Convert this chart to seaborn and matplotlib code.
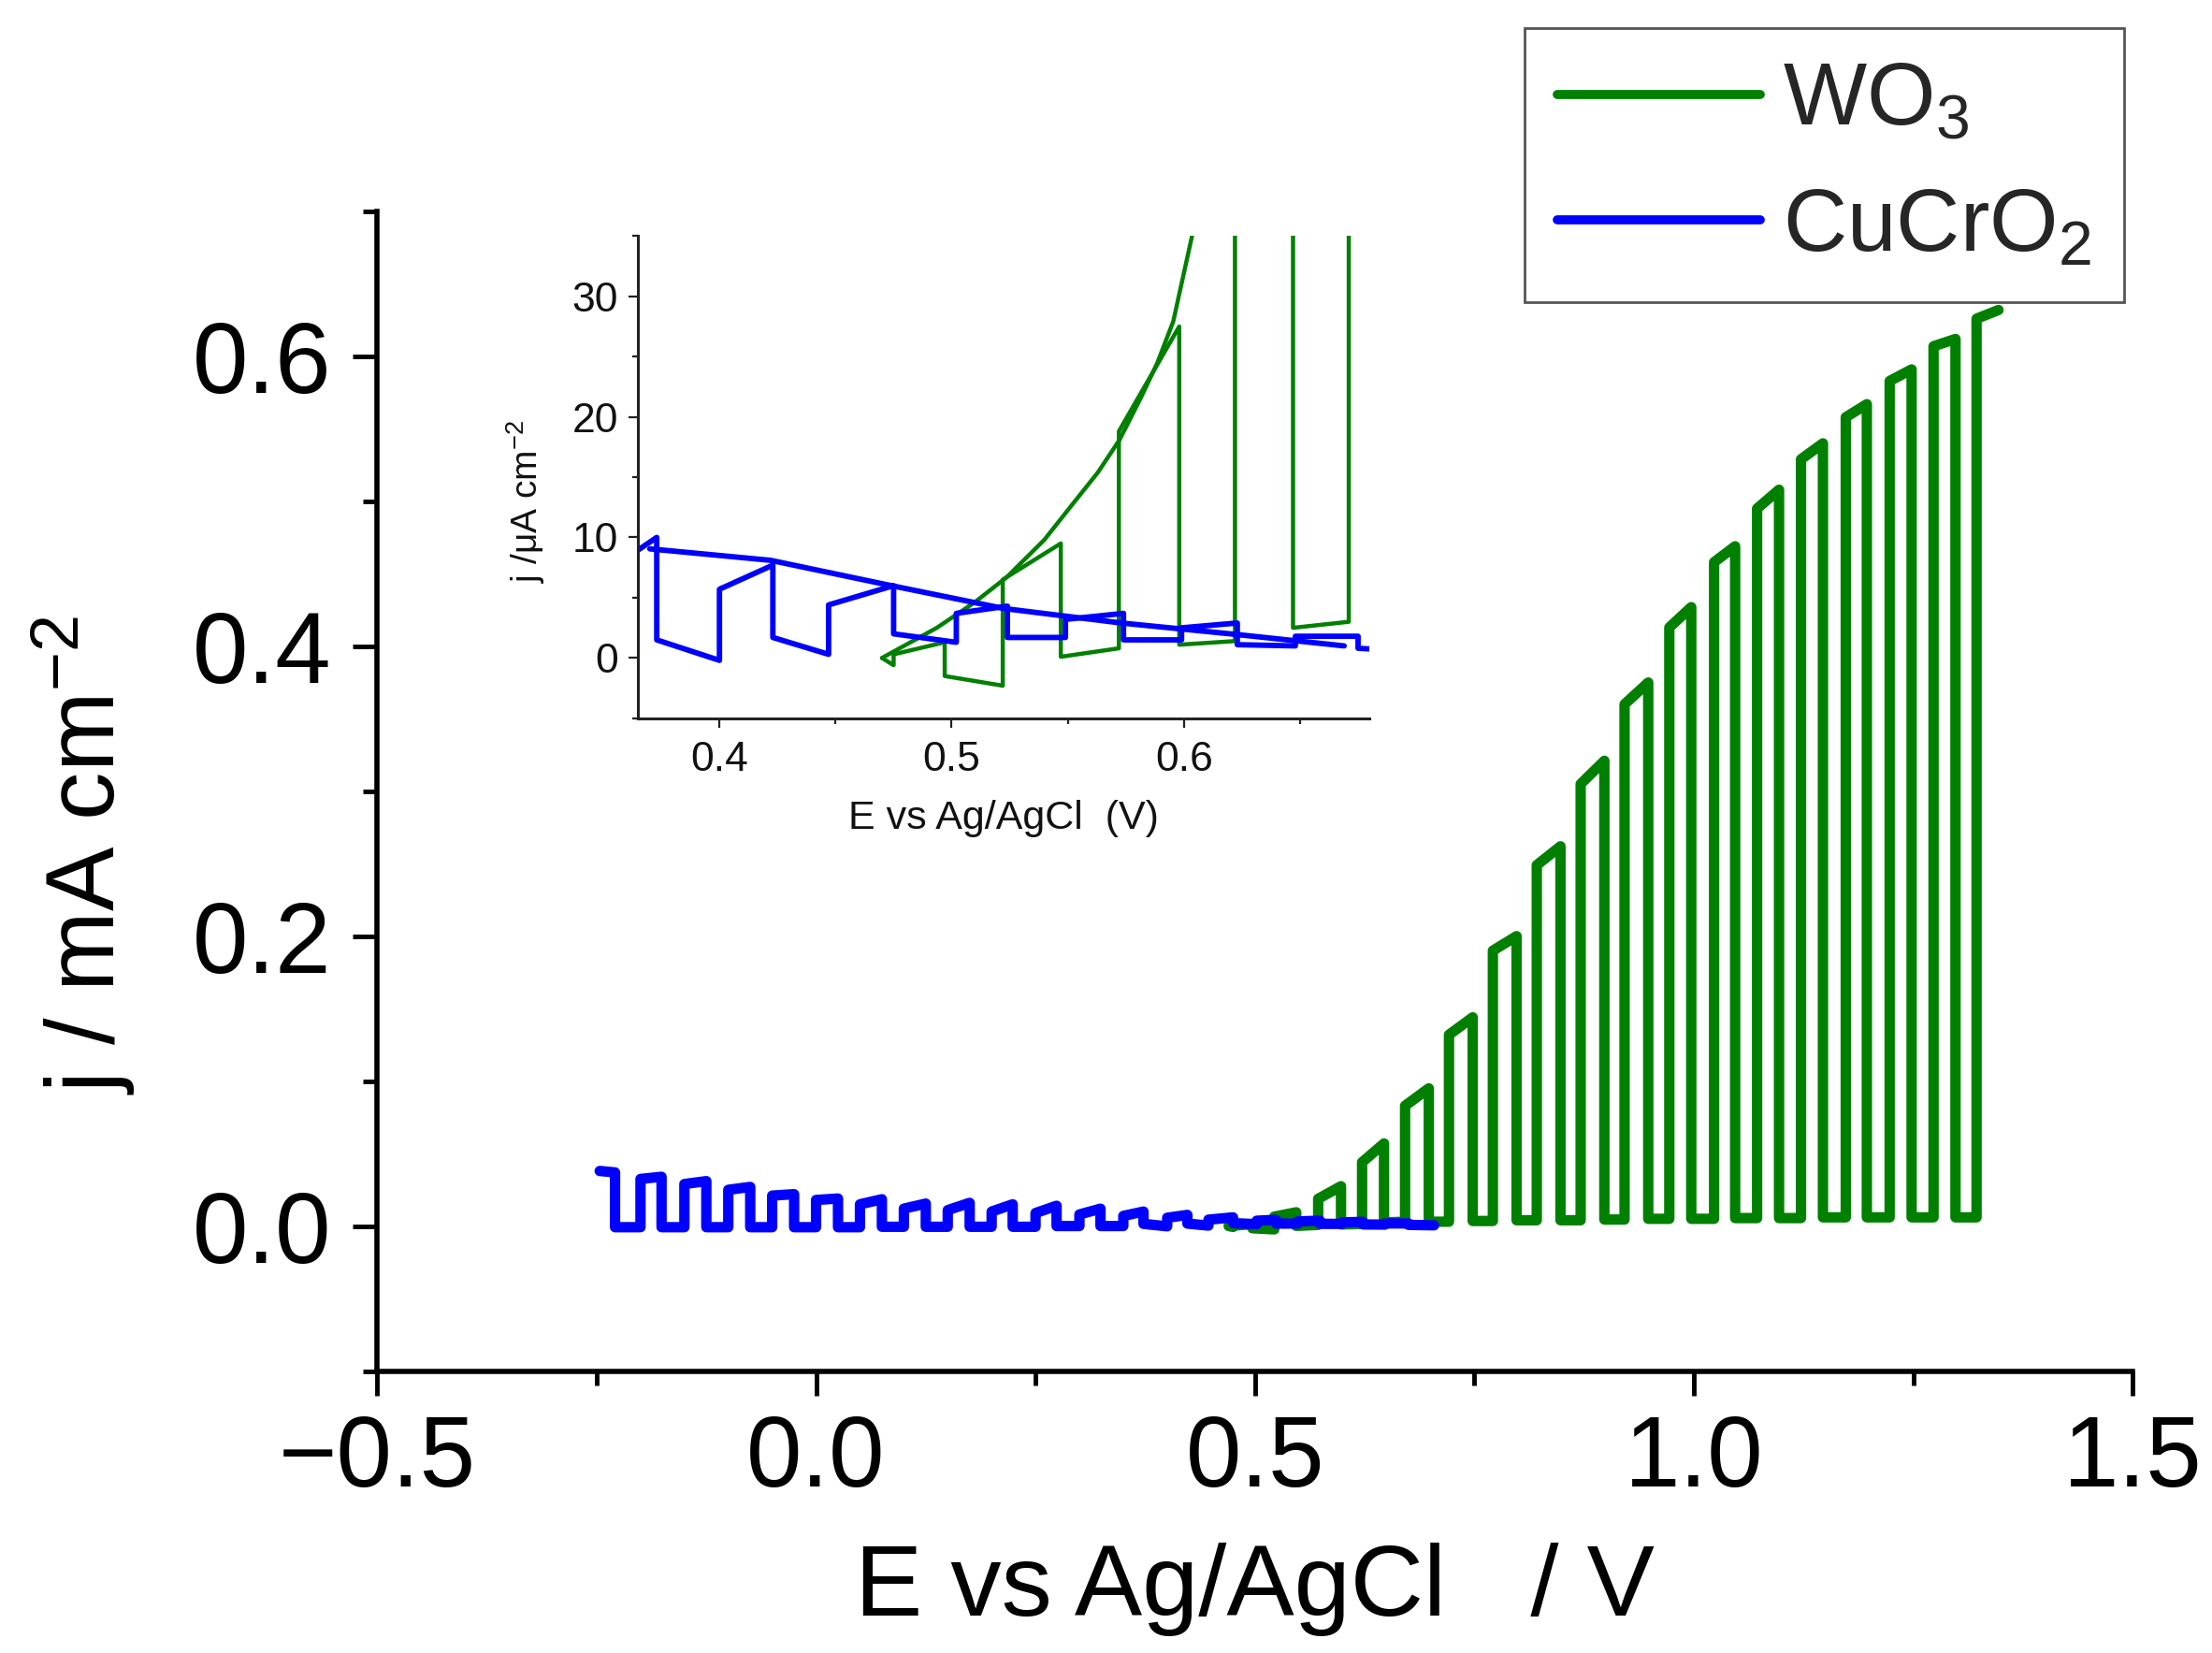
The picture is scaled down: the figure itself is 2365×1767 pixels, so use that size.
import matplotlib
matplotlib.use("Agg")
import matplotlib.pyplot as plt
from matplotlib.lines import Line2D
from matplotlib.ticker import MultipleLocator
import seaborn as sns

# ── data (E in V vs Ag/AgCl, j in mA cm-2) ─────────────────────────────────────
# WO3: chopped-light sweep, one row per light pulse
wo3_x0 = 0.470
wo3_on = [0.475, 0.522, 0.572, 0.622, 0.671, 0.721, 0.771, 0.821, 0.871,
          0.921, 0.972, 1.023, 1.072, 1.122, 1.173, 1.223, 1.273, 1.322]
wo3_off = [0.497, 0.547, 0.598, 0.647, 0.698, 0.748, 0.798, 0.848, 0.898,
           0.948, 0.997, 1.047, 1.097, 1.147, 1.197, 1.248, 1.298, 1.347]
wo3_light_start = [0.0003, 0.0065, 0.0188, 0.044, 0.083, 0.132, 0.190, 0.249, 0.305,
                   0.360, 0.413, 0.458, 0.495, 0.529, 0.558, 0.583, 0.607, 0.626]
wo3_light_end = [0.0013, 0.0095, 0.0275, 0.057, 0.095, 0.144, 0.200, 0.262, 0.321,
                 0.375, 0.427, 0.469, 0.508, 0.540, 0.567, 0.591, 0.612, 0.632]
# dark current in the interval before each pulse
wo3_dark_start = [0.0, -0.0015, 0.0001, 0.0011, 0.0025, 0.0030, 0.0035, 0.0040, 0.0040,
                  0.0045, 0.0050, 0.0050, 0.0055, 0.0055, 0.0060, 0.0060, 0.0060, 0.0060]
wo3_dark_end = [-0.0006, -0.0023, 0.0008, 0.0014, 0.0030, 0.0030, 0.0035, 0.0040, 0.0040,
                0.0045, 0.0050, 0.0050, 0.0055, 0.0055, 0.0060, 0.0060, 0.0060, 0.0060]

# CuCrO2: chopped sweep, high segments followed by low segments
cu_end = 0.704
cu_on = [-0.2465, -0.200, -0.150, -0.100, -0.050, 0.000, 0.050, 0.100, 0.150, 0.200,
         0.250, 0.300, 0.350, 0.400, 0.447, 0.502, 0.549, 0.599, 0.648]
cu_off = [-0.229, -0.176, -0.125, -0.075, -0.025, 0.025, 0.075, 0.125, 0.175, 0.224,
          0.274, 0.324, 0.373, 0.423, 0.475, 0.524, 0.574, 0.623, 0.675]
cu_high_start = [0.038, 0.0325, 0.029, 0.025, 0.021, 0.018, 0.015, 0.012, 0.011, 0.010,
                 0.009, 0.008, 0.0070, 0.0057, 0.0044, 0.0037, 0.0032, 0.0025, 0.0018]
cu_high_end = [0.037, 0.034, 0.031, 0.027, 0.022, 0.019, 0.0185, 0.0155, 0.016, 0.015,
               0.014, 0.012, 0.0100, 0.0077, 0.0060, 0.0043, 0.0037, 0.0029, 0.0018]
cu_low_start = [-0.0008, -0.0008, -0.0008, -0.0008, -0.0008, -0.0008, -0.0005, -0.0005,
                -0.0005, -0.0005, 0.0, 0.0, 0.0015, 0.0017, 0.0020, 0.0017, 0.0015,
                0.0011, 0.0008]
cu_low_end = [-0.0008, -0.0008, -0.0008, -0.0008, -0.0008, -0.0008, -0.0005, -0.0005,
              -0.0005, -0.0005, 0.0, 0.0, -0.0002, 0.0003, 0.0013, 0.0017, 0.0015,
              0.0010, 0.0005]

# inset only: continuous traces (j in uA cm-2)
wo3_cont_E = [0.470, 0.4936, 0.5098, 0.5237, 0.5399, 0.5514, 0.563, 0.5723, 0.5815,
              0.5884, 0.5954, 0.6035]
wo3_cont_j = [0.0, 2.5, 4.6, 6.7, 9.8, 12.6, 15.4, 18.1, 21.6, 24.4, 27.9, 35.0]
cu_cont_E = [0.370, 0.422, 0.474, 0.5225, 0.573, 0.620, 0.669]
cu_cont_j = [9.05, 8.1, 6.0, 4.1, 2.9, 2.0, 1.0]

GREEN = "#008000"
BLUE = "#0000ff"


def wo3_trace():
    xs, ys = [], []
    prev = wo3_x0
    for i in range(len(wo3_on)):
        xs += [prev, wo3_on[i], wo3_on[i], wo3_off[i]]
        ys += [wo3_dark_start[i], wo3_dark_end[i], wo3_light_start[i], wo3_light_end[i]]
        prev = wo3_off[i]
    return xs, ys


def cu_trace():
    xs, ys = [], []
    for i in range(len(cu_on)):
        nxt = cu_on[i + 1] if i + 1 < len(cu_on) else cu_end
        xs += [cu_on[i], cu_off[i], cu_off[i], nxt]
        ys += [cu_high_start[i], cu_high_end[i], cu_low_start[i], cu_low_end[i]]
    return xs, ys


sns.set_theme(style="ticks")
plt.rcParams["font.family"] = ["Liberation Sans", "DejaVu Sans"]
plt.rcParams["mathtext.default"] = "regular"
plt.rcParams["axes.unicode_minus"] = True

fig = plt.figure(figsize=(23.65, 17.67), dpi=100)
fig.patch.set_facecolor("white")

# ── main axes ─────────────────────────────────────────────────────────────────
ax = fig.add_axes([0.1705, 0.1706, 0.7937, 0.7015])
gx, gy = wo3_trace()
bx, by = cu_trace()
line_kw = dict(sort=False, estimator=None, solid_capstyle="round", solid_joinstyle="round")
sns.lineplot(x=gx, y=gy, ax=ax, color=GREEN, linewidth=8, **line_kw)
sns.lineplot(x=bx, y=by, ax=ax, color=BLUE, linewidth=8, **line_kw)

ax.set_xlim(-0.5, 1.5)
ax.set_ylim(-0.1, 0.7)
ax.set_facecolor("white")
sns.despine(ax=ax)
for s in ("left", "bottom"):
    ax.spines[s].set_linewidth(4)
    ax.spines[s].set_color("black")
ax.xaxis.set_major_locator(MultipleLocator(0.5))
ax.xaxis.set_minor_locator(MultipleLocator(0.25))
ax.yaxis.set_major_locator(MultipleLocator(0.2))
ax.yaxis.set_minor_locator(MultipleLocator(0.1))
ax.tick_params(which="major", direction="out", length=19, width=3.5, color="black",
               labelsize=77, labelcolor="black")
ax.tick_params(which="minor", direction="out", length=11, width=3.5, color="black")
ax.tick_params(axis="x", which="major", pad=14)
ax.tick_params(axis="y", which="major", pad=16)
ax.grid(False)

ax.set_xlabel("E vs Ag/AgCl   / V", fontsize=78, color="black")
ax.set_ylabel("j / mA cm$^{-2}$", fontsize=74, color="black")
ax.xaxis.set_label_coords(0.5, -0.148)
ax.yaxis.set_label_coords(-0.1365, 0.445)

# ── legend ────────────────────────────────────────────────────────────────────
handles = [Line2D([], [], color=GREEN, lw=7, solid_capstyle="round"),
           Line2D([], [], color=BLUE, lw=7, solid_capstyle="round")]
leg = ax.legend(handles, ["WO$_3$", "CuCrO$_2$"], loc="upper right",
                bbox_to_anchor=(0.9603, 0.983), bbox_transform=fig.transFigure,
                fontsize=68, frameon=True, fancybox=False, framealpha=1,
                edgecolor="#555555", handlelength=2.3, handletextpad=0.25,
                borderpad=0.37, labelspacing=0.48, borderaxespad=0)
leg.get_frame().set_linewidth(2)

# ── inset ─────────────────────────────────────────────────────────────────────
ins = fig.add_axes([0.2885, 0.5655, 0.3307, 0.2917])
gx_u = [v * 1000 for v in gy]
by_u = [v * 1000 for v in by]
sns.lineplot(x=gx, y=gx_u, ax=ins, color=GREEN, linewidth=3.2, **line_kw)
sns.lineplot(x=wo3_cont_E, y=wo3_cont_j, ax=ins, color=GREEN, linewidth=3.2, **line_kw)
sns.lineplot(x=bx, y=by_u, ax=ins, color=BLUE, linewidth=4.2, **line_kw)
sns.lineplot(x=cu_cont_E, y=cu_cont_j, ax=ins, color=BLUE, linewidth=4.2, **line_kw)

ins.set_xlim(0.365, 0.68)
ins.set_ylim(-5, 35)
ins.set_facecolor("white")
sns.despine(ax=ins)
for s in ("left", "bottom"):
    ins.spines[s].set_linewidth(2.2)
    ins.spines[s].set_color("#222222")
ins.xaxis.set_major_locator(MultipleLocator(0.1))
ins.xaxis.set_minor_locator(MultipleLocator(0.05))
ins.yaxis.set_major_locator(MultipleLocator(10))
ins.yaxis.set_minor_locator(MultipleLocator(5))
ins.tick_params(which="major", direction="out", length=7.5, width=1.6, color="#222222",
                labelsize=32, labelcolor="#111111")
ins.tick_params(which="minor", direction="out", length=4, width=1.6, color="#222222")
ins.tick_params(axis="x", which="major", pad=10)
ins.tick_params(axis="y", which="major", pad=8)
ins.grid(False)
ins.set_xlabel("E vs Ag/AgCl  (V)", fontsize=31, color="#111111")
ins.set_ylabel("j /μA cm$^{-2}$", fontsize=28, color="#111111")
ins.xaxis.set_label_coords(0.5, -0.17)
ins.yaxis.set_label_coords(-0.124, 0.4495)

fig.savefig("out.png", dpi=100, facecolor="white")
